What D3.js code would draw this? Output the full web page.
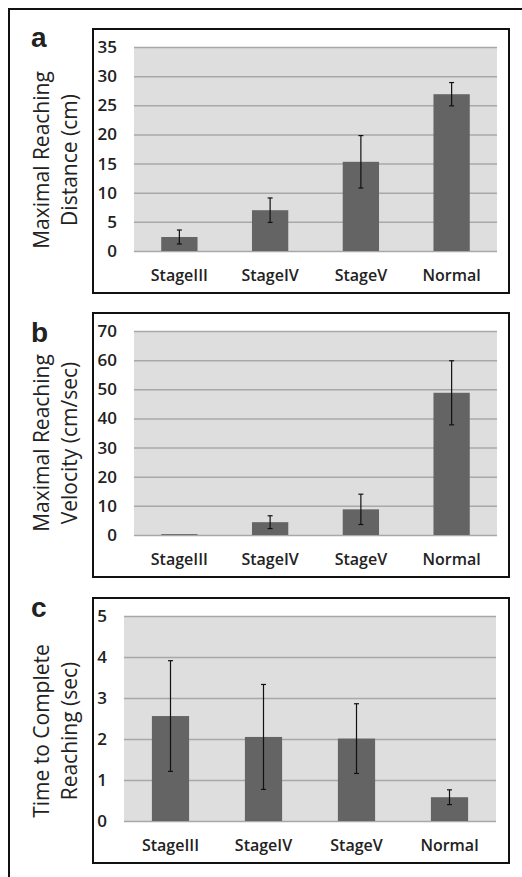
<!DOCTYPE html>
<html>
<head>
<meta charset="utf-8">
<script src="https://cdn.jsdelivr.net/npm/d3@7"></script>
<style>
  body { margin: 0; background: #fff; }
  svg { display: block; }
</style>
</head>
<body>
<div id="chart-area"></div>
<script>
// data
var categories = ["StageIII", "StageIV", "StageV", "Normal"];

var distMean = [2.4, 7.0, 15.3, 26.9];
var distErr  = [1.2, 2.1, 4.5, 2.0];
var distTicks = [0, 5, 10, 15, 20, 25, 30, 35];

var velMean = [0.3, 4.4, 8.8, 48.8];
var velErr  = [0, 2.2, 5.2, 11.0];
var velTicks = [0, 10, 20, 30, 40, 50, 60, 70];

var timeMean = [2.56, 2.05, 2.01, 0.58];
var timeErr  = [1.35, 1.28, 0.85, 0.18];
var timeTicks = [0, 1, 2, 3, 4, 5];

var width = 522, height = 877;

var svg = d3.select("#chart-area")
    .append("svg")
    .attr("width", width)
    .attr("height", height);

// outer frame (only top and left show)
svg.append("path")
    .attr("d", "M9,877 V9 H522")
    .attr("fill", "none")
    .attr("stroke", "#111")
    .attr("stroke-width", 2);

var panels = [
    { label: "a", title: ["Maximal Reaching", "Distance (cm)"], mean: distMean, err: distErr, ticks: distTicks,
      box: [93, 29, 416, 264], plot: [134, 497, 47, 251], labelY: 47, titleY: 160 },
    { label: "b", title: ["Maximal Reaching", "Velocity (cm/sec)"], mean: velMean, err: velErr, ticks: velTicks,
      box: [93, 313, 416, 264], plot: [134, 497, 331, 535], labelY: 342, titleY: 443 },
    { label: "c", title: ["Time to Complete", "Reaching (sec)"], mean: timeMean, err: timeErr, ticks: timeTicks,
      box: [93, 598, 416, 265], plot: [124, 496, 616, 821], labelY: 617, titleY: 731 }
];

panels.forEach(function(p) {
    var g = svg.append("g");

    // panel box
    g.append("rect")
        .attr("x", p.box[0])
        .attr("y", p.box[1])
        .attr("width", p.box[2])
        .attr("height", p.box[3])
        .attr("fill", "#fff")
        .attr("stroke", "#111")
        .attr("stroke-width", 2);

    // panel letter
    g.append("text")
        .attr("x", 31)
        .attr("y", p.labelY)
        .attr("font-family", "Liberation Sans, Arial, sans-serif")
        .attr("font-weight", "bold")
        .attr("font-size", "28px")
        .attr("fill", "#222")
        .text(p.label);

    // y title, two lines
    p.title.forEach(function(line, i) {
        g.append("text")
            .attr("transform", "translate(" + (49 + i * 28) + "," + p.titleY + ") rotate(-90)")
            .attr("text-anchor", "middle")
            .attr("font-family", "Open Sans, sans-serif")
            .attr("font-size", "21px")
            .attr("fill", "#222")
            .text(line);
    });

    var x = d3.scaleBand()
        .domain(categories)
        .range([p.plot[0], p.plot[1]])
        .paddingInner(0.6)
        .paddingOuter(0.3);
    var y = d3.scaleLinear()
        .domain([0, d3.max(p.ticks)])
        .range([p.plot[3], p.plot[2]]);

    // plot area background
    g.append("rect")
        .attr("x", p.plot[0])
        .attr("y", p.plot[2])
        .attr("width", p.plot[1] - p.plot[0])
        .attr("height", p.plot[3] - p.plot[2])
        .attr("fill", "#dedede");

    // y axis with gridlines
    var yAxis = g.append("g")
        .attr("transform", "translate(" + p.plot[0] + ",0)")
        .call(d3.axisLeft(y).tickValues(p.ticks).tickFormat(d3.format("d"))
            .tickSize(-(p.plot[1] - p.plot[0])).tickPadding(17));
    yAxis.select(".domain").remove();
    yAxis.selectAll("line")
        .attr("stroke", "#a8a8a8")
        .attr("stroke-width", 1.5);
    yAxis.selectAll("text")
        .attr("font-family", "Open Sans, sans-serif")
        .attr("font-size", "17px")
        .attr("font-weight", 600)
        .attr("fill", "#222");

    // x axis labels
    var xAxis = g.append("g")
        .attr("transform", "translate(0," + p.plot[3] + ")")
        .call(d3.axisBottom(x).tickSize(0));
    xAxis.select(".domain").remove();
    xAxis.selectAll("text")
        .attr("y", 30)
        .attr("dy", 0)
        .attr("font-family", "Open Sans, sans-serif")
        .attr("font-size", "16px")
        .attr("font-weight", 600)
        .attr("fill", "#222");

    // bars
    g.selectAll(".bar")
        .data(categories)
        .enter().append("rect")
        .attr("class", "bar")
        .attr("x", function(d) { return x(d); })
        .attr("y", function(d, i) { return y(p.mean[i]); })
        .attr("width", x.bandwidth())
        .attr("height", function(d, i) { return y(0) - y(p.mean[i]); })
        .attr("fill", "#646464");

    // error bars
    var eb = g.selectAll(".err")
        .data(categories.filter(function(d, i) { return p.err[i] > 0; }))
        .enter().append("g")
        .attr("class", "err")
        .attr("stroke", "#111")
        .attr("stroke-width", 1.2);
    function idx(d) { return categories.indexOf(d); }
    function cx(d) { return x(d) + x.bandwidth() / 2; }
    eb.append("line")
        .attr("x1", cx).attr("x2", cx)
        .attr("y1", function(d) { return y(p.mean[idx(d)] + p.err[idx(d)]); })
        .attr("y2", function(d) { return y(p.mean[idx(d)] - p.err[idx(d)]); });
    [1, -1].forEach(function(s) {
        eb.append("line")
            .attr("x1", function(d) { return cx(d) - 2.5; })
            .attr("x2", function(d) { return cx(d) + 2.5; })
            .attr("y1", function(d) { return y(p.mean[idx(d)] + s * p.err[idx(d)]); })
            .attr("y2", function(d) { return y(p.mean[idx(d)] + s * p.err[idx(d)]); });
    });
});
</script>
</body>
</html>
